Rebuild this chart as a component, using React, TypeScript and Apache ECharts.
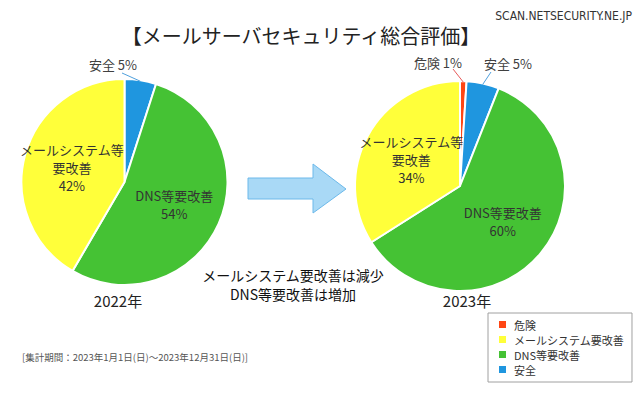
import React, { useEffect, useRef } from "react";
import * as echarts from "echarts";

// Legend order of categories
const categories = ["危険", "メールシステム要改善", "DNS等要改善", "安全"];
// Slice order (clockwise from 12 o'clock)
const sliceOrder2022 = ["安全", "DNS等要改善", "メールシステム要改善"];
const values2022 = [5, 54, 42];
const sliceOrder2023 = ["危険", "安全", "DNS等要改善", "メールシステム要改善"];
const values2023 = [1, 5, 60, 34];
const yearLabels = ["2022年", "2023年"];
const labelText: Record<string, string> = {
  "危険": "危険",
  "メールシステム要改善": "メールシステム等\n要改善",
  "DNS等要改善": "DNS等要改善",
  "安全": "安全",
};
const colors: Record<string, string> = {
  "危険": "#FF4614",
  "メールシステム要改善": "#FFFF3A",
  "DNS等要改善": "#45C234",
  "安全": "#1F96DF",
};
const lineColors: Record<string, string> = { "危険": "#E85A5A", "安全": "#4FA0DD" };
const outsideSlices = ["危険", "安全"];

const FONT = '"Noto Sans CJK JP", "Noto Sans", sans-serif';

// layout of the two pies
const pie1 = { cx: 124.5, cy: 182, r: 103 };
const pie2 = { cx: 460, cy: 186, r: 105 };

export default function App() {
  const ref = useRef<HTMLDivElement>(null);
  useEffect(() => {
    if (!ref.current) return;
    const chart = echarts.init(ref.current, null, { renderer: "svg" });

    const makeData = (order: string[], vals: number[]) =>
      order.map((name, i) => {
        const outside = outsideSlices.includes(name);
        return {
          name,
          value: vals[i],
          itemStyle: { color: colors[name] },
          label: outside
            ? { position: "outside", formatter: "{b} {c}%", fontSize: 13, color: "#404040" }
            : {
                position: "inside",
                formatter: (p: any) => labelText[p.name] + "\n" + p.value + "%",
                fontSize: 13,
                lineHeight: 18,
                color: "#333333",
              },
          labelLine: { show: false },
        };
      });

    // label anchor (center) and leader-line end offset relative to it
    const outsidePos2022: Record<string, [number, number, number, number]> = {
      "安全": [113, 64, 9, 9],
    };
    const outsidePos2023: Record<string, [number, number, number, number]> = {
      "危険": [438, 62, 15, 7],
      "安全": [508, 63, -17, 9],
    };

    const layoutFor = (order: string[], table: Record<string, [number, number, number, number]>) =>
      (p: any) => {
        const name = order[p.dataIndex];
        const pos = table[name];
        if (!pos) return {};
        return { x: pos[0], y: pos[1], align: "center", verticalAlign: "middle" };
      };

    // leader lines computed from slice mid-angles
    const leaderLines = (
      order: string[],
      vals: number[],
      pie: { cx: number; cy: number; r: number },
      table: Record<string, [number, number, number, number]>
    ) => {
      const total = vals.reduce((a, b) => a + b, 0);
      let cum = 0;
      const out: any[] = [];
      order.forEach((name, i) => {
        const mid = cum + vals[i] / 2;
        cum += vals[i];
        const pos = table[name];
        if (!pos) return;
        const th = (mid / total) * Math.PI * 2;
        const sx = pie.cx + (pie.r - 1) * Math.sin(th);
        const sy = pie.cy - (pie.r - 1) * Math.cos(th);
        out.push({
          type: "polyline",
          shape: { points: [[sx, sy], [pos[0] + pos[2], pos[1] + pos[3]]] },
          style: { stroke: lineColors[name], lineWidth: 1, fill: null },
          z: 100,
        });
      });
      return out;
    };

    const pieBase = {
      type: "pie",
      startAngle: 90,
      clockwise: true,
      avoidLabelOverlap: false,
      itemStyle: { borderColor: "#ffffff", borderWidth: 2 },
      emphasis: { disabled: true },
      label: { fontFamily: FONT },
    };

    chart.setOption({
      animation: false,
      textStyle: { fontFamily: FONT },
      title: [
        {
          text: "【メールサーバセキュリティ総合評価】",
          left: 296,
          top: 20,
          textAlign: "center",
          textStyle: { fontSize: 20, fontWeight: "normal", color: "#222", fontFamily: FONT },
        },
        {
          text: "SCAN.NETSECURITY.NE.JP",
          right: 3,
          top: 5,
          textStyle: {
            fontSize: 12,
            fontWeight: "normal",
            color: "#333",
            fontFamily: '"Liberation Sans Narrow", "DejaVu Sans Condensed", sans-serif',
          },
        },
      ],
      legend: {
        orient: "vertical",
        left: 488,
        top: 313,
        data: categories,
        icon: "rect",
        itemWidth: 9,
        itemHeight: 9,
        itemGap: 4,
        padding: [6, 8, 7, 9],
        borderColor: "#a0a0a0",
        borderWidth: 1,
        backgroundColor: "#fff",
        selectedMode: false,
        textStyle: { fontSize: 11, color: "#333", fontFamily: FONT, padding: [0, 0, 0, 2] },
      },
      series: [
        {
          ...pieBase,
          name: yearLabels[0],
          center: [pie1.cx, pie1.cy],
          radius: pie1.r,
          data: makeData(sliceOrder2022, values2022),
          labelLayout: layoutFor(sliceOrder2022, outsidePos2022),
        },
        {
          ...pieBase,
          name: yearLabels[1],
          center: [pie2.cx, pie2.cy],
          radius: pie2.r,
          data: makeData(sliceOrder2023, values2023),
          labelLayout: layoutFor(sliceOrder2023, outsidePos2023),
        },
      ],
      graphic: {
        z: 100,
        elements: [
          ...leaderLines(sliceOrder2022, values2022, pie1, outsidePos2022),
          ...leaderLines(sliceOrder2023, values2023, pie2, outsidePos2023),
          {
            type: "polygon",
            shape: {
              points: [
                [248, 178],
                [313, 178],
                [313, 164],
                [346, 189],
                [313, 213],
                [313, 199],
                [248, 199],
              ],
            },
            style: { fill: "#A9D9F6", stroke: "#6CB9EA", lineWidth: 1 },
          },
          {
            type: "text",
            x: 118,
            y: 300,
            style: {
              text: yearLabels[0],
              fontSize: 15,
              fontFamily: FONT,
              fill: "#222",
              align: "center",
              verticalAlign: "middle",
            },
          },
          {
            type: "text",
            x: 467,
            y: 300,
            style: {
              text: yearLabels[1],
              fontSize: 15,
              fontFamily: FONT,
              fill: "#222",
              align: "center",
              verticalAlign: "middle",
            },
          },
          {
            type: "text",
            x: 293,
            y: 284,
            style: {
              text: "メールシステム要改善は減少\nDNS等要改善は増加",
              fontSize: 14,
              lineHeight: 19,
              fontFamily: FONT,
              fill: "#111",
              align: "center",
              verticalAlign: "middle",
            },
          },
          {
            type: "text",
            x: 22,
            y: 357,
            style: {
              text: "[集計期間：2023年1月1日(日)～2023年12月31日(日)]",
              fontSize: 9.5,
              fontFamily: FONT,
              fill: "#555",
              align: "left",
              verticalAlign: "middle",
            },
          },
        ],
      },
    });
    return () => chart.dispose();
  }, []);
  return (
    <div
      ref={ref}
      style={{ position: "fixed", left: 0, top: 0, width: 640, height: 399, background: "#fff" }}
    />
  );
}
